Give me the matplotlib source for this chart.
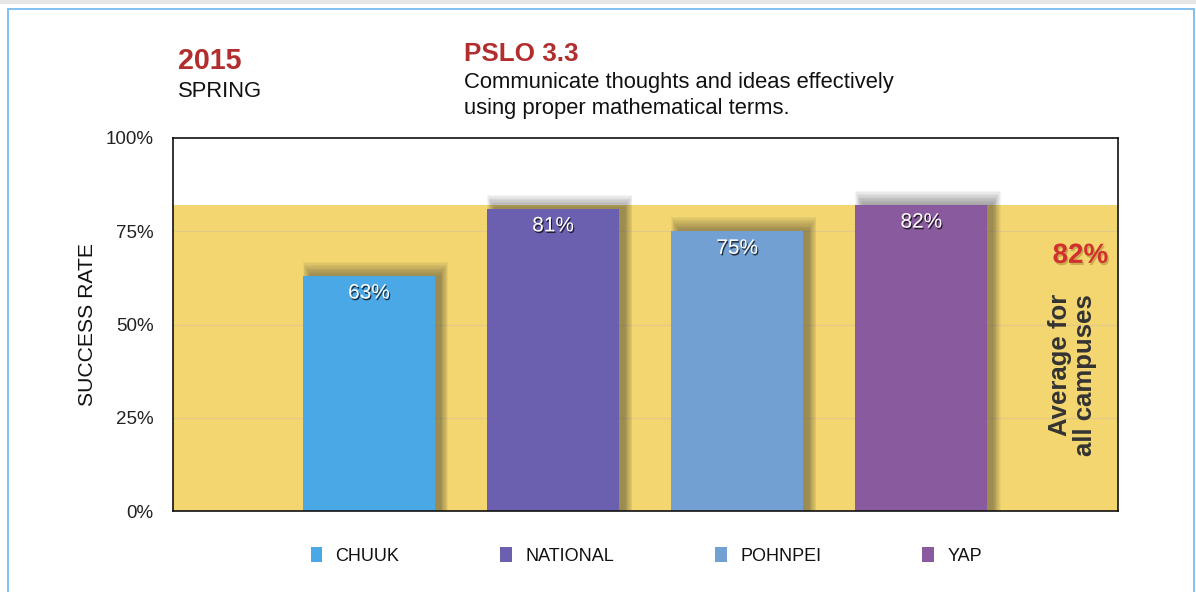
import matplotlib
matplotlib.use("Agg")
import matplotlib.pyplot as plt
import matplotlib.patheffects as pe
from matplotlib.patches import Rectangle

plt.rcParams['font.family'] = ['Liberation Sans', 'DejaVu Sans']

categories = ["CHUUK", "NATIONAL", "POHNPEI", "YAP"]
values = [63, 81, 75, 82]
colors = ["#4BA8E6", "#6B5FB0", "#73A0D2", "#8A5A9E"]
average = 82
yticks = [0, 25, 50, 75, 100]
ytick_labels = ["0%", "25%", "50%", "75%", "100%"]

W, H = 1196, 592
fig = plt.figure(figsize=(W / 100, H / 100), dpi=100)
fig.patch.set_facecolor("white")

def fx(px):
    return px / W

def fy(py):
    return 1 - py / H

# page decoration: grey strip and light-blue frame
fig.add_artist(Rectangle((0, fy(4)), 1, 4 / H, transform=fig.transFigure,
                         facecolor="#E6E6E6", edgecolor="none"))
fig.add_artist(Rectangle((fx(7.5), -0.1), fx(1186), fy(8.5) + 0.1, transform=fig.transFigure,
                         facecolor="none", edgecolor="#6DB6F0", lw=1.2))

ax = fig.add_axes([fx(173), fy(511), fx(945), 373 / H])
x = list(range(len(categories)))
ax.set_xlim(-1.065, 4.068)
ax.set_ylim(0, 100)

# average band
ax.axhspan(0, average, facecolor="#F3D670", edgecolor="none", zorder=0)
for t in yticks[1:-1]:
    ax.axhline(t, color="#E2C88A", lw=0.8, zorder=0.5)

# soft shadows behind bars (shifted slightly right, blurred upward)
for k in range(1, 11):
    ax.bar([xi + 0.035 for xi in x], [v + 0.38 * k for v in values],
           width=0.70 + 0.009 * k, color="#2a2a2a", alpha=0.05, zorder=1, linewidth=0)

bars = ax.bar(x, values, width=0.717, color=colors, zorder=2, linewidth=0)

for xi, v in zip(x, values):
    ax.text(xi, v - 2.0, f"{v}%", ha="center", va="top", color="white", fontsize=15,
            zorder=3,
            path_effects=[pe.withSimplePatchShadow(offset=(0.8, -1.2), shadow_rgbFace="black", alpha=0.7)])

ax.set_yticks(yticks)
ax.set_yticklabels(ytick_labels, fontsize=13.5, color="#222222")
ax.set_xticks([])
ax.tick_params(axis="y", length=0, pad=14)
for s in ax.spines.values():
    s.set_color("#111111")
    s.set_linewidth(1.2)

ax.set_ylabel("SUCCESS RATE", fontsize=15.2, color="#111111", labelpad=6)

# average annotation
ax.text(3.864, 68.4, f"{average}%", ha="center", va="center", color="#D22F2F", fontsize=20,
        fontweight="bold", zorder=3,
        path_effects=[pe.withSimplePatchShadow(offset=(1, -1.5), shadow_rgbFace="#8a6d20", alpha=0.4)])
ax.text(3.82, 36.5, "Average for\nall campuses", ha="center", va="center", rotation=90,
        multialignment="right", color="#333333", fontsize=18.5, fontweight="bold",
        linespacing=1.05, zorder=3)

# titles
fig.text(fx(178), fy(69), "2015", color="#B22E2E", fontsize=20.6, fontweight="bold", va="baseline")
fig.text(fx(178), fy(97), "SPRING", color="#111111", fontsize=15.8, va="baseline")
fig.text(fx(464), fy(61), "PSLO 3.3", color="#B22E2E", fontsize=18.7, fontweight="bold", va="baseline")
fig.text(fx(464), fy(88), "Communicate thoughts and ideas effectively", color="#111111",
         fontsize=15.8, va="baseline")
fig.text(fx(464), fy(114), "using proper mathematical terms.", color="#111111",
         fontsize=15.8, va="baseline")

# legend
handles = [Rectangle((0, 0), 1, 1, facecolor=c, edgecolor="none") for c in colors]
leg = fig.legend(handles, categories, loc="center left", bbox_to_anchor=(fx(310.5), fy(556)),
                 ncol=4, frameon=False, fontsize=13, handlelength=0.66, handleheight=0.9,
                 handletextpad=0.72, columnspacing=5.6, borderpad=0, borderaxespad=0)
for t in leg.get_texts():
    t.set_color("#111111")

fig.savefig("out.png", dpi=100)
